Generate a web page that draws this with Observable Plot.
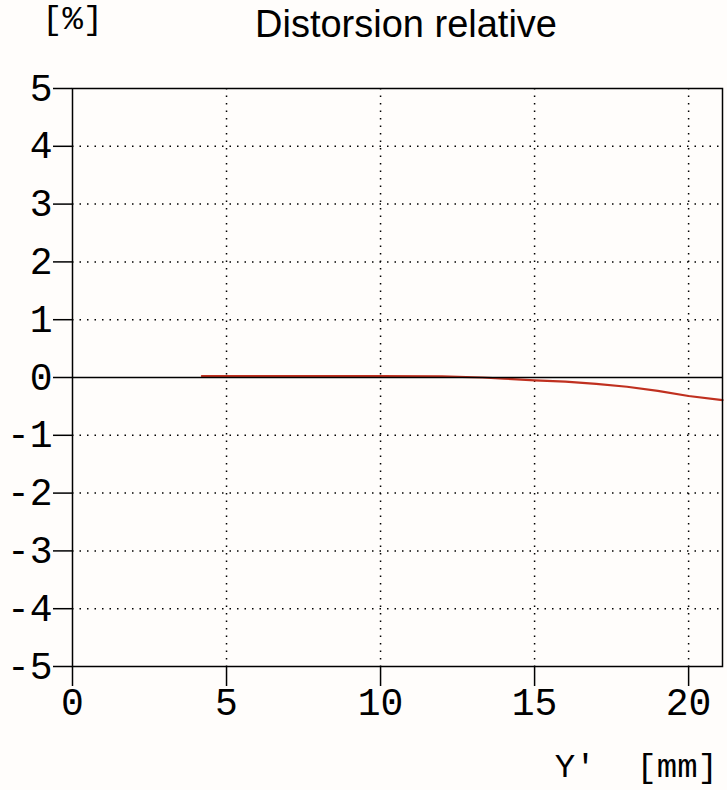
<!DOCTYPE html>
<html><head><meta charset="utf-8">
<script src="https://cdn.jsdelivr.net/npm/d3@7"></script>
<script src="https://cdn.jsdelivr.net/npm/@observablehq/plot@0.6"></script>
<style>
body{margin:0;background:#fffdfb;}
#wrap{position:relative;width:727px;height:790px;overflow:hidden;}
#wrap svg{position:absolute;left:0;top:0;}
.t{position:absolute;white-space:pre;color:#000;line-height:1;}
.mono{font-family:"Liberation Mono",monospace;font-size:34px;}
</style></head><body><div id="wrap"></div>
<script>
// Relative distortion [%] vs image height Y' [mm]
const imageHeight = [4.2, 6, 8, 10, 12, 13.3, 14, 15, 16, 17, 18, 19, 20, 21.1];
const distortion  = [0.025, 0.025, 0.025, 0.025, 0.02, 0, -0.02, -0.05, -0.07, -0.11, -0.16, -0.23, -0.32, -0.39];
const xTicks = [0, 5, 10, 15, 20];
const yTicks = [-5, -4, -3, -2, -1, 0, 1, 2, 3, 4, 5];
const xGrid = [5, 10, 15, 20];
const yGrid = [-4, -3, -2, -1, 1, 2, 3, 4];
const titleText = "Distorsion relative";
const yUnit = "[%]";
const xUnit = "Y'  [mm]";

const data = imageHeight.map((x, i) => ({x, y: distortion[i]}));

const chart = Plot.plot({
  width: 727, height: 790,
  marginLeft: 72, marginRight: 5, marginTop: 88, marginBottom: 124,
  style: {background: "transparent", fontFamily: "'Liberation Mono', monospace", fontSize: "38px", color: "#000"},
  x: {domain: [0, 21.1]},
  y: {domain: [-5, 5]},
  marks: [
    Plot.gridX(xGrid, {stroke: "#000", strokeOpacity: 1, strokeWidth: 1.5, strokeDasharray: "1.5,6"}),
    Plot.gridY(yGrid, {stroke: "#000", strokeOpacity: 1, strokeWidth: 1.5, strokeDasharray: "1.5,6"}),
    Plot.line(data, {x: "x", y: "y", stroke: "#c0301f", strokeWidth: 2.2}),
    Plot.ruleY([0], {stroke: "#000", strokeWidth: 1.5}),
    Plot.frame({stroke: "#000", strokeWidth: 1.5}),
    Plot.axisY(yTicks, {tickSize: 19, tickPadding: 1, tickFormat: d => String(d), label: null, strokeWidth: 1.5, fontSize: 38}),
    Plot.axisX(xTicks, {tickSize: 20, tickPadding: 2, tickFormat: d => String(d), label: null, strokeWidth: 1.5, fontSize: 38})
  ]
});
const wrap = document.getElementById("wrap");
wrap.appendChild(chart);

function addText(txt, cls, css) {
  const d = document.createElement("div");
  d.className = "t " + cls;
  d.textContent = txt;
  Object.assign(d.style, css);
  wrap.appendChild(d);
}
addText(titleText, "", {left: "206px", width: "400px", textAlign: "center", top: "5px", fontFamily: "'Liberation Sans', Arial, sans-serif", fontSize: "38px"});
addText(yUnit, "mono", {left: "42px", top: "3px"});
addText(xUnit, "mono", {right: "9px", top: "751px"});
</script></body></html>
